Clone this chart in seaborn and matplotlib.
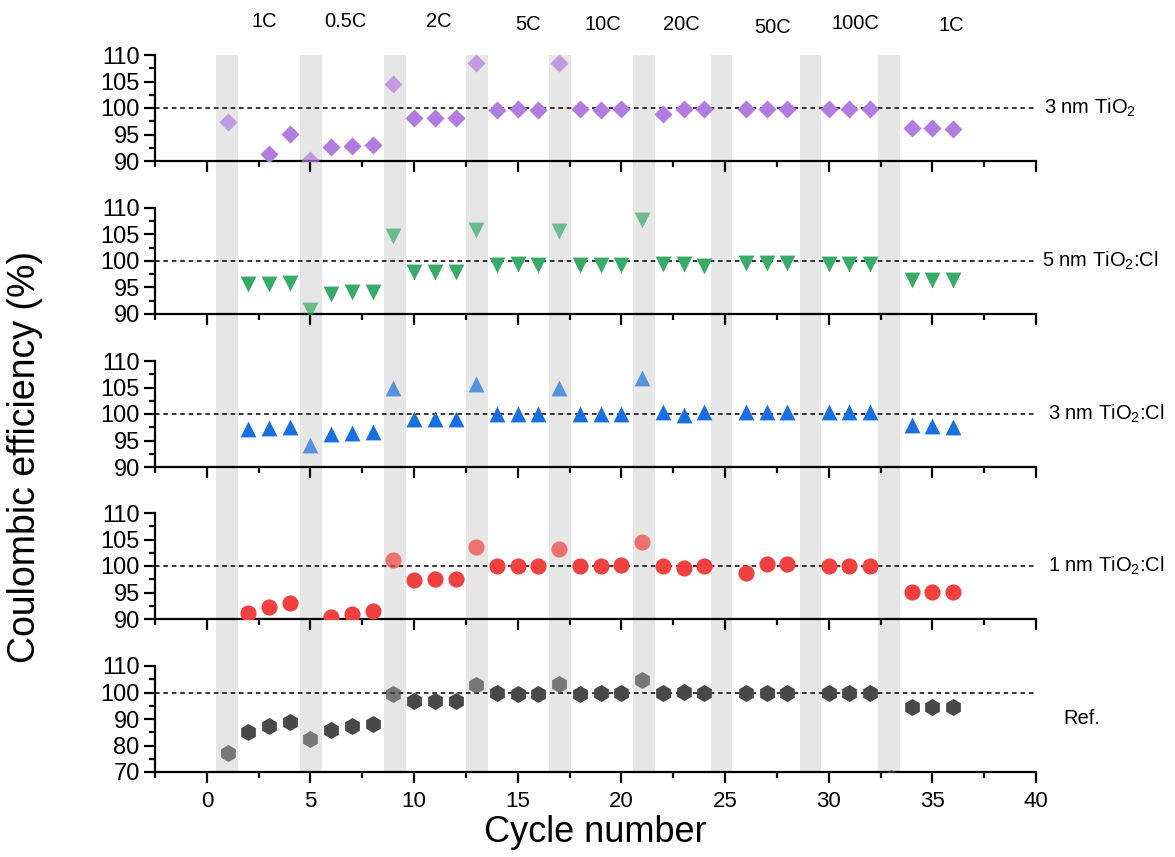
import numpy as np
import pandas as pd
import matplotlib
matplotlib.use("Agg")
import matplotlib.pyplot as plt
from matplotlib.ticker import MultipleLocator
import seaborn as sns

nan = np.nan

# Cycle numbers and coulombic efficiency (%) for each sample
cycles = list(range(1, 37))
ce_tio2_3nm = [97.3, nan, 91.3, 95.1, 90.1, 92.7, 92.9, 93.0, 104.6, 98.2, 98.1, 98.1,
               108.5, 99.7, 99.8, 99.7, 108.4, 99.8, 99.7, 99.8, nan, 98.9, 99.8, 99.8,
               nan, 99.8, 99.8, 99.8, nan, 99.8, 99.8, 99.8, nan, 96.3, 96.2, 96.1]
ce_tio2cl_5nm = [nan, 95.7, 95.7, 95.9, 90.8, 93.8, 94.1, 94.2, 104.7, 97.9, 97.9, 98.0,
                 105.9, 99.3, 99.4, 99.3, 105.6, 99.3, 99.3, 99.3, 107.7, 99.5, 99.5, 99.0,
                 nan, 99.6, 99.6, 99.6, nan, 99.5, 99.5, 99.5, nan, 96.4, 96.4, 96.4]
ce_tio2cl_3nm = [nan, 97.2, 97.4, 97.6, 94.1, 96.2, 96.5, 96.6, 104.9, 99.0, 99.0, 99.0,
                 105.6, 100.0, 100.0, 100.0, 104.9, 100.0, 100.0, 100.0, 106.8, 100.4, 99.8, 100.4,
                 nan, 100.3, 100.3, 100.3, nan, 100.3, 100.3, 100.3, nan, 98.0, 97.7, 97.6]
ce_tio2cl_1nm = [nan, 91.2, 92.3, 93.1, nan, 90.4, 91.0, 91.5, 101.2, 97.4, 97.5, 97.6,
                 103.6, 100.0, 100.0, 100.0, 103.3, 100.0, 100.0, 100.1, 104.6, 100.0, 99.6, 100.0,
                 nan, 98.7, 100.3, 100.3, nan, 100.0, 100.0, 100.0, nan, 95.1, 95.1, 95.1]
ce_ref = [77.3, 85.1, 87.4, 88.9, 82.3, 85.8, 87.3, 88.2, 99.4, 96.9, 96.8, 96.8,
          102.7, 99.7, 99.3, 99.4, 103.2, 99.4, 99.7, 99.7, 104.9, 99.7, 100.1, 100.0,
          nan, 100.0, 100.0, 100.0, nan, 100.0, 100.0, 100.0, 67.8, 94.7, 94.7, 94.7]

# first cycle after each rate change (shaded)
switch_cycles = [1, 5, 9, 13, 17, 21, 25, 29, 33]
band_left = [0.45, 4.5, 8.55, 12.5, 16.5, 20.55, 24.3, 28.6, 32.4]

rate_labels = ["1C", "0.5C", "2C", "5C", "10C", "20C", "50C", "100C", "1C"]
rate_x = [2.75, 6.7, 11.2, 15.5, 19.1, 22.9, 27.3, 31.3, 35.9]
rate_y = [116.3, 116.3, 116.3, 115.7, 115.7, 115.7, 115.1, 115.9, 115.5]

sample_names = ["3 nm TiO$_2$", "5 nm TiO$_2$:Cl", "3 nm TiO$_2$:Cl",
                "1 nm TiO$_2$:Cl", "Ref."]
sample_values = [ce_tio2_3nm, ce_tio2cl_5nm, ce_tio2cl_3nm, ce_tio2cl_1nm, ce_ref]
markers = ["D", "v", "^", "o", "h"]
colors = ["#b27be0", "#37ab67", "#1a6fe0", "#f04040", "#484848"]
sizes = [85, 130, 130, 135, 150]
label_x = [40.4, 40.3, 40.6, 40.6, 41.3]
label_y = [100, 100, 100, 100, 90]

sns.set_style("ticks")
plt.rcParams["font.family"] = ["Liberation Sans", "DejaVu Sans"]
plt.rcParams["mathtext.default"] = "regular"
plt.rcParams["text.color"] = "black"
plt.rcParams["xtick.color"] = "black"
plt.rcParams["ytick.color"] = "black"
plt.rcParams["axes.edgecolor"] = "black"

W, H = 1175, 857
fig = plt.figure(figsize=(W / 100, H / 100), dpi=100)

left = 155 / W
width = (1036 - 155) / W
xlim = (-2.5, 40)

# background axes for the gray bands spanning all panels
bg = fig.add_axes([left, 1 - 772 / H, width, (772 - 55) / H])
bg.set_xlim(xlim)
bg.set_ylim(0, 1)
for b in band_left:
    bg.axvspan(b, b + 1.05, color="#e6e6e6", lw=0)
bg.axis("off")

panel_tops = [55, 208, 361, 513, 666]
panel_h = 106

for i, (name, vals) in enumerate(zip(sample_names, sample_values)):
    top = panel_tops[i]
    ax = fig.add_axes([left, 1 - (top + panel_h) / H, width, panel_h / H])
    ax.set_facecolor("none")

    df = pd.DataFrame({"cycle": cycles, "ce": vals}).dropna()
    df["switch"] = df["cycle"].isin(switch_cycles)

    ax.axhline(100, color="black", lw=1.1, ls=(0, (3, 2.5)), zorder=1)
    sns.scatterplot(data=df[~df["switch"]], x="cycle", y="ce", marker=markers[i],
                    color=colors[i], s=sizes[i], linewidth=0, ax=ax, zorder=3)
    sns.scatterplot(data=df[df["switch"]], x="cycle", y="ce", marker=markers[i],
                    color=colors[i], s=sizes[i], linewidth=0, alpha=0.7, ax=ax, zorder=3)

    ax.set_xlim(xlim)
    if i < 4:
        ax.set_ylim(90, 110)
        ax.yaxis.set_major_locator(MultipleLocator(5))
        ax.yaxis.set_minor_locator(MultipleLocator(2.5))
    else:
        ax.set_ylim(70, 110)
        ax.yaxis.set_major_locator(MultipleLocator(10))
        ax.yaxis.set_minor_locator(MultipleLocator(5))
    ax.xaxis.set_major_locator(MultipleLocator(5))
    ax.xaxis.set_minor_locator(MultipleLocator(2.5))

    for s in ["top", "right"]:
        ax.spines[s].set_visible(False)
    for s in ["left", "bottom"]:
        ax.spines[s].set_linewidth(1.6)
    ax.tick_params(which="major", direction="out", length=8, width=1.6, labelsize=17)
    ax.tick_params(which="minor", direction="out", length=4, width=1.6)
    ax.tick_params(axis="y", pad=3)
    ax.set_xlabel("")
    ax.set_ylabel("")
    if i < 4:
        ax.tick_params(axis="x", labelbottom=False)
    else:
        ax.tick_params(axis="x", labelsize=16, pad=6)

    ax.text(label_x[i], label_y[i], name, fontsize=14.5, va="center", ha="left",
            clip_on=False)

    if i == 0:
        for lab, x, y in zip(rate_labels, rate_x, rate_y):
            ax.text(x, y, lab, fontsize=14.5, ha="center", va="center", clip_on=False)

fig.text(0.021, 0.467, "Coulombic efficiency (%)", rotation=90, fontsize=27,
         ha="center", va="center")
fig.text((155 + 1036) / 2 / W, 1 - 832 / H, "Cycle number", fontsize=26,
         ha="center", va="center")

fig.savefig("out.png", dpi=100)
